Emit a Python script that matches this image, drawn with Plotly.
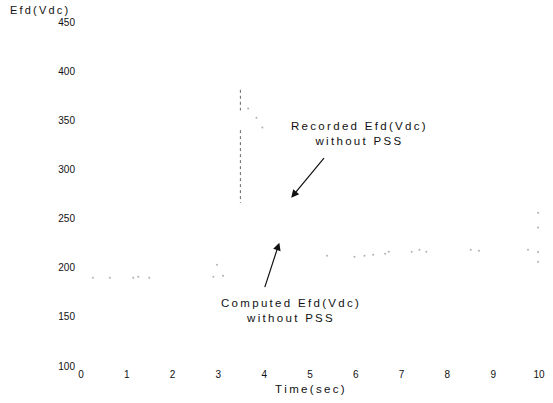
import plotly.graph_objects as go

# Time axis (sec) and field voltage Efd (Vdc)
x_ticks = [0, 1, 2, 3, 4, 5, 6, 7, 8, 9, 10]
y_ticks = [100, 150, 200, 250, 300, 350, 400, 450]

# Recorded Efd: field forcing step at t = 3.5 s
recorded_step_t = [3.48, 3.48, None, 3.48, 3.48]
recorded_step_v = [381, 360, None, 340, 266]
recorded_t = [3.65, 3.83, 3.96, 9.98, 9.98, 9.98, 9.98]
recorded_v = [362, 352.7, 342.6, 256, 241, 216, 206]

# Computed Efd samples
computed_t = [0.26, 0.63, 1.14, 1.25, 1.49, 2.89, 2.97, 3.10,
              5.37, 5.97, 6.19, 6.38, 6.64, 6.72, 7.22, 7.39, 7.54,
              8.51, 8.69, 9.76]
computed_v = [189.8, 189.8, 189.8, 190.8, 189.8, 190.8, 203, 191.8,
              212.2, 211.2, 212.2, 213.2, 214.2, 216.3, 216.3, 218.3, 216.3,
              218.3, 217.3, 218.3]

TS = "\u2009"  # thin space used for the wide-set lettering


def spaced(s):
    return TS.join(s)


fig = go.Figure()
fig.add_trace(go.Scatter(x=recorded_step_t, y=recorded_step_v, mode="lines",
                         line=dict(color="#666666", width=1, dash="dot"),
                         hoverinfo="skip", showlegend=False))
fig.add_trace(go.Scatter(x=recorded_t, y=recorded_v, mode="markers",
                         marker=dict(color="#b0b0b0", size=2),
                         hoverinfo="skip", showlegend=False))
fig.add_trace(go.Scatter(x=computed_t, y=computed_v, mode="markers",
                         marker=dict(color="#b0b0b0", size=2),
                         hoverinfo="skip", showlegend=False))

font = dict(family="Liberation Sans, Arial, sans-serif", color="#111111")

fig.update_layout(
    width=553, height=403,
    margin=dict(l=81, r=8, t=22, b=37),
    paper_bgcolor="white", plot_bgcolor="white",
    showlegend=False,
    font=dict(**font, size=10),
    xaxis=dict(range=[0, 10], tickvals=x_ticks, ticktext=[str(v) for v in x_ticks],
               showgrid=False, zeroline=False, showline=False, ticks="",
               tickfont=dict(**font, size=10), ticklabelstandoff=1),
    yaxis=dict(range=[100, 450], tickvals=y_ticks, ticktext=[str(v) for v in y_ticks],
               showgrid=False, zeroline=False, showline=False, ticks="",
               tickfont=dict(**font, size=10), ticklabelstandoff=5),
    annotations=[
        dict(xref="paper", yref="paper", x=-0.159, y=1.035, xanchor="left", yanchor="middle",
             text=spaced("Efd(Vdc)"), showarrow=False, font=dict(**font, size=11)),
        dict(xref="paper", yref="paper", x=0.501, y=-0.067, xanchor="center", yanchor="middle",
             text=spaced("Time(sec)"), showarrow=False, font=dict(**font, size=11.5)),
        dict(x=6.06, y=336.5, xanchor="center", yanchor="middle",
             text=spaced("Recorded Efd(Vdc)") + "<br>" + spaced("without PSS"),
             showarrow=False, font=dict(**font, size=11.5)),
        dict(x=4.57, y=156.2, xanchor="center", yanchor="middle",
             text=spaced("Computed Efd(Vdc)") + "<br>" + spaced("without PSS"),
             showarrow=False, font=dict(**font, size=11.5)),
        dict(x=4.59, y=271.3, ax=34, ay=-41, text="", showarrow=True,
             arrowhead=2, arrowsize=1.3, arrowwidth=1.2, arrowcolor="#111111"),
        dict(x=4.33, y=225.5, ax=-15, ay=46, text="", showarrow=True,
             arrowhead=2, arrowsize=1.3, arrowwidth=1.2, arrowcolor="#111111"),
    ],
)

fig.write_html("out.html")
